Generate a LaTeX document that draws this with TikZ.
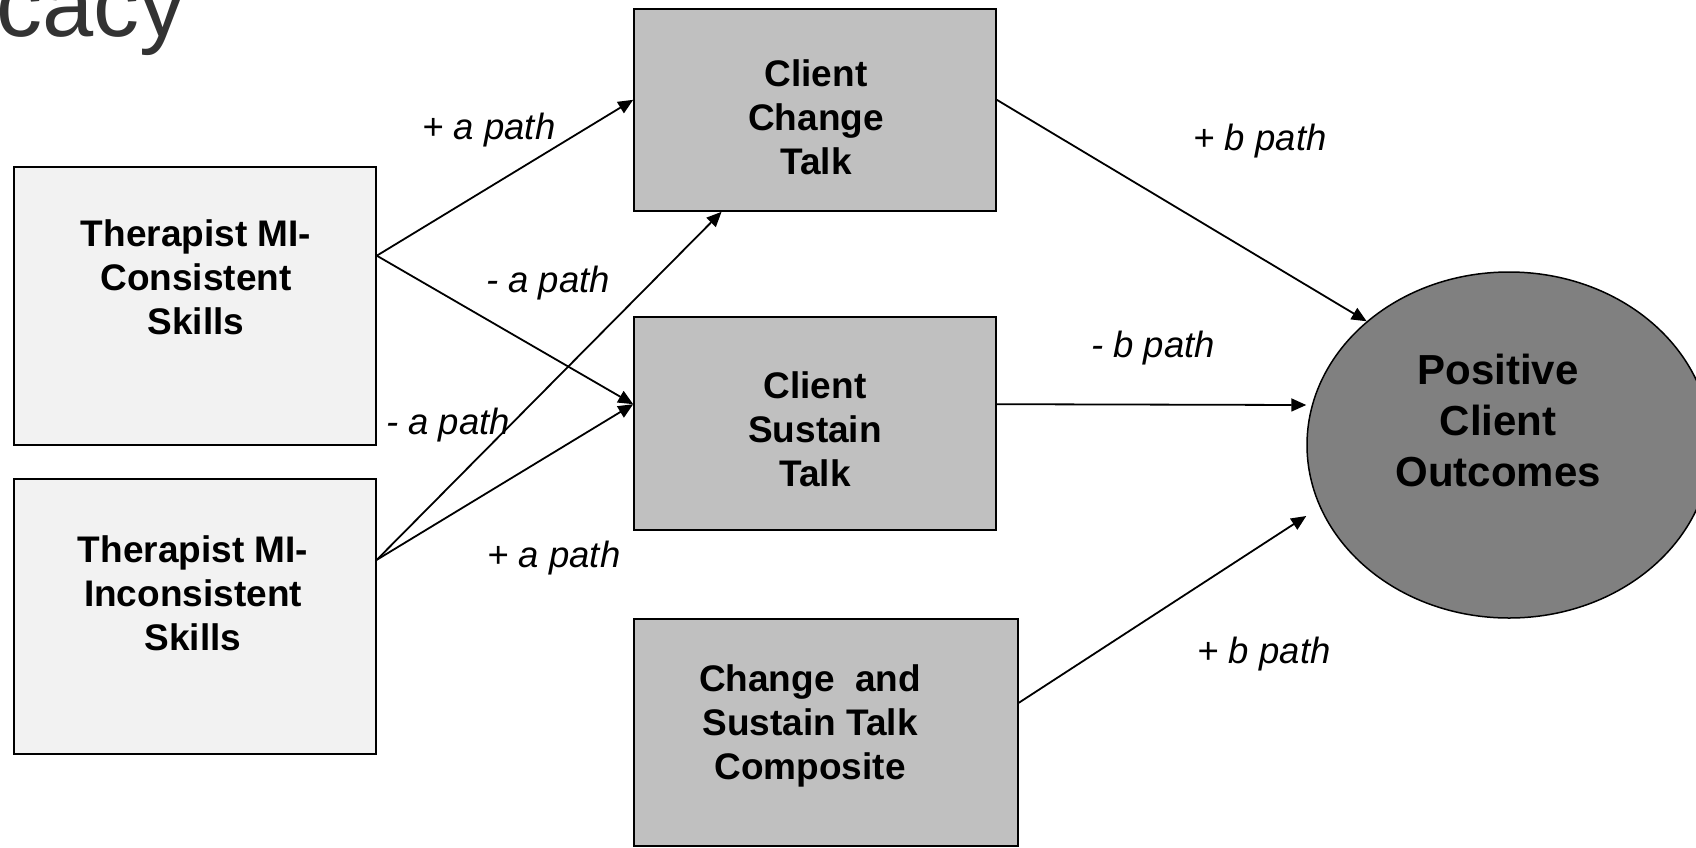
\documentclass[tikz,border=0pt]{standalone}
\usepackage{fontspec}
\setmainfont{Liberation Sans}
\usetikzlibrary{arrows.meta,shapes.geometric,calc}
\definecolor{boxlight}{HTML}{F2F2F2}
\definecolor{boxmid}{HTML}{C0C0C0}
\definecolor{ovalfill}{HTML}{808080}
\definecolor{titlegrey}{HTML}{333333}
\begin{document}
\begin{tikzpicture}[x=1pt,y=-1pt,
  lightbox/.style={draw=black,line width=1.6pt,fill=boxlight,inner sep=0pt,minimum width=362pt},
  darkbox/.style={draw=black,line width=1.6pt,fill=boxmid,inner sep=0pt},
  boxtext/.style={font=\bfseries\fontsize{37}{44}\selectfont,align=center,inner sep=0pt},
  pathlabel/.style={font=\itshape\fontsize{36.5}{43}\selectfont,inner sep=0pt},
  conn/.style={line width=1.8pt,-{Triangle[length=15pt,width=13pt]}}]
\useasboundingbox (0,0) rectangle (1696,847);
% title fragment
\node[anchor=base east,inner sep=0pt,text=titlegrey,font=\fontsize{92}{100}\selectfont] (title) at (186,36) {cacy};
% boxes
\node[lightbox,minimum height=278pt] (tc) at (195,306) {};
\node[lightbox,minimum height=275pt] (ti) at (195,616.5) {};
\node[darkbox,minimum width=362pt,minimum height=202pt] (cct) at (815,110) {};
\node[darkbox,minimum width=362pt,minimum height=213pt] (cst) at (815,423.5) {};
\node[darkbox,minimum width=384pt,minimum height=227pt] (comp) at (826,732.5) {};
\node[draw=black,line width=1.5pt,fill=ovalfill,ellipse,inner sep=0pt,minimum width=404pt,minimum height=346pt] (oc) at (1509,445) {};
% box texts
\node[boxtext] (tctext) at (196,277) {Therapist MI-\\Consistent\\Skills};
\node[boxtext] (titext) at (193,593) {Therapist MI-\\Inconsistent\\Skills};
\node[boxtext] (ccttext) at (816,117) {Client\\Change\\Talk};
\node[boxtext] (csttext) at (815,429) {Client\\Sustain\\Talk};
\node[boxtext] (comptext) at (810,726) {Change\ \ and\\Sustain Talk\\Composite};
\node[font=\bfseries\fontsize{42}{51}\selectfont,align=center,inner sep=0pt] (octext) at (1498,420) {Positive\\Client\\Outcomes};
% connectors
\draw[conn] ($(tc.north east)!0.32!(tc.south east)$) -- ($(cct.north west)!0.45!(cct.south west)$);
\draw[conn] ($(tc.north east)!0.32!(tc.south east)$) -- ($(cst.north west)!0.41!(cst.south west)$);
\draw[conn] ($(ti.north east)!0.295!(ti.south east)$) -- ($(cct.south west)!0.243!(cct.south east)$);
\draw[conn] ($(ti.north east)!0.295!(ti.south east)$) -- ($(cst.north west)!0.41!(cst.south west)$);
\draw[conn] ($(cct.north east)!0.45!(cct.south east)$) -- (oc.139);
\draw[conn] ($(cst.north east)!0.41!(cst.south east)$) -- ($(oc.west)+(0,-40)$);
\draw[conn] ($(comp.north east)!0.37!(comp.south east)$) -- ($(oc.west)+(0,71)$);
% path labels
\node[pathlabel] (la1) at (489,130) {+ a path};
\node[pathlabel] (la2) at (548,283) {- a path};
\node[pathlabel] (la3) at (448,425) {- a path};
\node[pathlabel] (la4) at (554,558) {+ a path};
\node[pathlabel] (lb1) at (1260,141) {+ b path};
\node[pathlabel] (lb2) at (1153,348) {- b path};
\node[pathlabel] (lb3) at (1264,654) {+ b path};
\end{tikzpicture}
\end{document}
